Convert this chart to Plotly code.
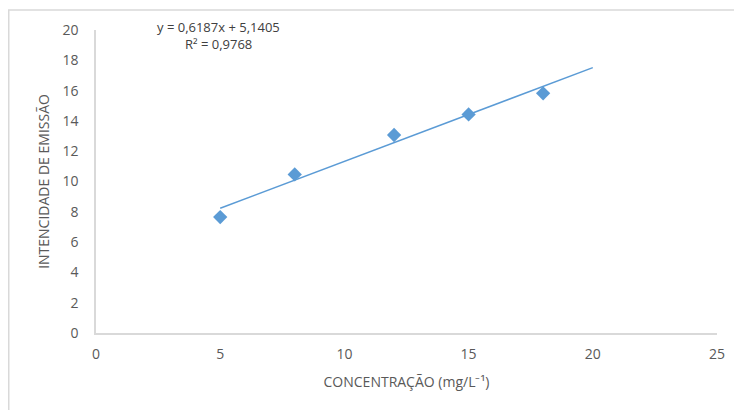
import plotly.graph_objects as go

concentracao = [5, 8, 12, 15, 18]
intensidade = [7.65, 10.47, 13.07, 14.43, 15.82]
slope = 0.6187
intercept = 5.1405
trend_x = [5, 20]
trend_y = [slope * x + intercept for x in trend_x]
x_ticks = [0, 5, 10, 15, 20, 25]
y_ticks = [0, 2, 4, 6, 8, 10, 12, 14, 16, 18, 20]

blue = "#5b9bd5"
grey_txt = "#595959"
font_family = "Open Sans, Liberation Sans, sans-serif"

# page is offset by 8px body margin; plot area on page: x 96-717, y 30-333
L, T = 88, 22
PW, PH = 621, 303

fig = go.Figure()
fig.add_trace(go.Scatter(x=trend_x, y=trend_y, mode="lines",
                         line=dict(color=blue, width=1.5), showlegend=False,
                         hoverinfo="skip"))
fig.add_trace(go.Scatter(x=concentracao, y=intensidade, mode="markers",
                         marker=dict(symbol="diamond", size=11, color=blue),
                         showlegend=False))

fig.update_layout(
    width=742, height=410,
    margin=dict(l=L, r=742 - L - PW, t=T, b=410 - T - PH),
    paper_bgcolor="white", plot_bgcolor="white",
    font=dict(family=font_family, color=grey_txt, size=14),
    xaxis=dict(range=[0, 25], tickvals=x_ticks, ticktext=[str(v) for v in x_ticks],
               showgrid=False, zeroline=False, showline=True, linecolor="#d9d9d9",
               linewidth=1.5, ticks="", ticklabelstandoff=7,
               tickfont=dict(size=14, color=grey_txt),
               title=dict(text="CONCENTRAÇÃO (mg/L⁻¹)", standoff=16,
                          font=dict(size=14, color=grey_txt))),
    yaxis=dict(range=[0, 20], tickvals=y_ticks, showgrid=False, zeroline=False,
               showline=True, linecolor="#d9d9d9", linewidth=1.5, ticks="",
               ticklabelstandoff=13,
               tickfont=dict(size=14, color=grey_txt),
               title=dict(text="INTENCIDADE DE EMISSÃO", standoff=10,
                          font=dict(size=14, color=grey_txt))),
    shapes=[dict(type="rect", xref="paper", yref="paper",
                 x0=(0.75 - L) / PW, x1=1.2, y0=-0.4, y1=1 + (T - 2) / PH,
                 line=dict(color="#d9d9d9", width=1.5), layer="below")],
    annotations=[
        dict(xref="paper", yref="paper", x=(210 - L) / PW,
             y=1 + (T - 19) / PH, xanchor="center", yanchor="middle",
             text="y = 0,6187x + 5,1405", showarrow=False,
             font=dict(size=13, color="#404040")),
        dict(xref="paper", yref="paper", x=(210 - L) / PW,
             y=1 + (T - 36) / PH, xanchor="center", yanchor="middle",
             text="R² = 0,9768", showarrow=False,
             font=dict(size=13, color="#404040")),
    ],
)

fig.write_html("out.html")
